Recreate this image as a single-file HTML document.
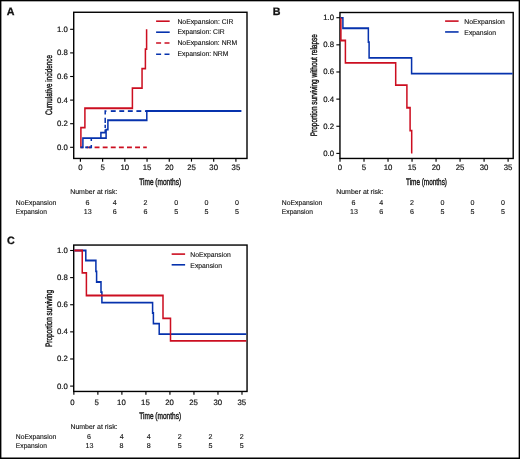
<!DOCTYPE html><html><head><meta charset="utf-8"><style>html,body{margin:0;padding:0;background:#fff;}svg{display:block;will-change:transform;}text{font-family:"Liberation Sans",sans-serif;fill:#111;stroke:#111;stroke-width:0.18px;text-rendering:geometricPrecision;} text.t{stroke-width:0.38px;} text.h{stroke-width:0.3px;} text.l{stroke-width:0.12px;fill:#111;stroke:#111}</style></head><body>
<svg width="520" height="459" viewBox="0 0 520 459">
<rect x="0" y="0" width="520" height="459" fill="#fff"/>
<text x="6.75" y="14.70" font-size="10.7" font-weight="bold" class="h">A</text>
<rect x="73.72" y="12.27" width="173.28" height="146.18" fill="none" stroke="#000" stroke-width="1.4"/>
<line x1="70.12" y1="147.30" x2="73.72" y2="147.30" stroke="#000" stroke-width="1.1"/>
<text x="67.77" y="149.75" font-size="7.8" text-anchor="end">0.0</text>
<line x1="70.12" y1="123.70" x2="73.72" y2="123.70" stroke="#000" stroke-width="1.1"/>
<text x="67.77" y="126.15" font-size="7.8" text-anchor="end">0.2</text>
<line x1="70.12" y1="100.10" x2="73.72" y2="100.10" stroke="#000" stroke-width="1.1"/>
<text x="67.77" y="102.55" font-size="7.8" text-anchor="end">0.4</text>
<line x1="70.12" y1="76.50" x2="73.72" y2="76.50" stroke="#000" stroke-width="1.1"/>
<text x="67.77" y="78.95" font-size="7.8" text-anchor="end">0.6</text>
<line x1="70.12" y1="52.90" x2="73.72" y2="52.90" stroke="#000" stroke-width="1.1"/>
<text x="67.77" y="55.35" font-size="7.8" text-anchor="end">0.8</text>
<line x1="70.12" y1="29.30" x2="73.72" y2="29.30" stroke="#000" stroke-width="1.1"/>
<text x="67.77" y="31.75" font-size="7.8" text-anchor="end">1.0</text>
<line x1="80.40" y1="158.45" x2="80.40" y2="161.65" stroke="#000" stroke-width="1.15"/>
<text x="80.40" y="170.35" font-size="7.8" text-anchor="middle">0</text>
<line x1="102.62" y1="158.45" x2="102.62" y2="161.65" stroke="#000" stroke-width="1.15"/>
<text x="102.62" y="170.35" font-size="7.8" text-anchor="middle">5</text>
<line x1="124.83" y1="158.45" x2="124.83" y2="161.65" stroke="#000" stroke-width="1.15"/>
<text x="124.83" y="170.35" font-size="7.8" text-anchor="middle">10</text>
<line x1="147.05" y1="158.45" x2="147.05" y2="161.65" stroke="#000" stroke-width="1.15"/>
<text x="147.05" y="170.35" font-size="7.8" text-anchor="middle">15</text>
<line x1="169.26" y1="158.45" x2="169.26" y2="161.65" stroke="#000" stroke-width="1.15"/>
<text x="169.26" y="170.35" font-size="7.8" text-anchor="middle">20</text>
<line x1="191.47" y1="158.45" x2="191.47" y2="161.65" stroke="#000" stroke-width="1.15"/>
<text x="191.47" y="170.35" font-size="7.8" text-anchor="middle">25</text>
<line x1="213.69" y1="158.45" x2="213.69" y2="161.65" stroke="#000" stroke-width="1.15"/>
<text x="213.69" y="170.35" font-size="7.8" text-anchor="middle">30</text>
<line x1="235.91" y1="158.45" x2="235.91" y2="161.65" stroke="#000" stroke-width="1.15"/>
<text x="235.91" y="170.35" font-size="7.8" text-anchor="middle">35</text>
<text class="t" transform="translate(52.20,115.12) rotate(-90)" x="0" y="0" font-size="9.4" textLength="60.10" lengthAdjust="spacingAndGlyphs">Cumulative incidence</text>
<text x="139.27" y="184.90" font-size="9.4" textLength="41.84" lengthAdjust="spacingAndGlyphs" class="t">Time (months)</text>
<text x="70.24" y="194.40" font-size="6.9" textLength="47.11" lengthAdjust="spacingAndGlyphs" class="l">Number at risk:</text>
<text x="15.86" y="205.30" font-size="6.9" textLength="40.41" lengthAdjust="spacingAndGlyphs" class="l">NoExpansion</text>
<text x="87.40" y="205.30" font-size="7.1000000000000005" text-anchor="middle" class="l">6</text>
<text x="114.85" y="205.30" font-size="7.1000000000000005" text-anchor="middle" class="l">4</text>
<text x="145.50" y="205.30" font-size="7.1000000000000005" text-anchor="middle" class="l">2</text>
<text x="176.20" y="205.30" font-size="7.1000000000000005" text-anchor="middle" class="l">0</text>
<text x="206.40" y="205.30" font-size="7.1000000000000005" text-anchor="middle" class="l">0</text>
<text x="236.90" y="205.30" font-size="7.1000000000000005" text-anchor="middle" class="l">0</text>
<text x="15.87" y="213.80" font-size="6.9" textLength="31.17" lengthAdjust="spacingAndGlyphs" class="l">Expansion</text>
<text x="87.75" y="213.80" font-size="7.1000000000000005" text-anchor="middle" class="l">13</text>
<text x="114.85" y="213.80" font-size="7.1000000000000005" text-anchor="middle" class="l">6</text>
<text x="145.50" y="213.80" font-size="7.1000000000000005" text-anchor="middle" class="l">6</text>
<text x="176.20" y="213.80" font-size="7.1000000000000005" text-anchor="middle" class="l">5</text>
<text x="206.40" y="213.80" font-size="7.1000000000000005" text-anchor="middle" class="l">5</text>
<text x="236.90" y="213.80" font-size="7.1000000000000005" text-anchor="middle" class="l">5</text>
<path transform="scale(1,1.22)" d="M80.40,120.820 L146.80,120.820" fill="none" stroke="#cc0e20" stroke-width="1.516" stroke-dasharray="4.9,3.2" stroke-dashoffset="2.0"/>
<path transform="scale(1,1.22)" d="M80.90,120.738 L80.90,104.590 L84.90,104.590 L84.90,88.770 L132.40,88.770 L132.40,72.295 L142.05,72.295 L142.05,56.270 L145.40,56.270 L145.40,40.328 L146.60,40.328 L146.60,24.016" fill="none" stroke="#cc0e20" stroke-width="1.516"/>
<path transform="scale(1,1.22)" d="M85.20,120.779 L88.20,120.779" fill="none" stroke="#0632ad" stroke-width="1.516"/>
<path transform="scale(1,1.22)" d="M89.00,120.779 L91.30,120.779 L91.30,118.770" fill="none" stroke="#0632ad" stroke-width="1.516"/>
<path transform="scale(1,1.22)" d="M91.30,115.574 L91.30,113.197" fill="none" stroke="#0632ad" stroke-width="1.516"/>
<path transform="scale(1,1.22)" d="M100.90,113.197 L100.90,108.770 L105.20,108.770 L105.20,106.230" fill="none" stroke="#0632ad" stroke-width="1.516"/>
<path transform="scale(1,1.22)" d="M105.20,104.918 L105.20,102.295" fill="none" stroke="#0632ad" stroke-width="1.516"/>
<path transform="scale(1,1.22)" d="M105.20,100.738 L105.20,96.557" fill="none" stroke="#0632ad" stroke-width="1.516"/>
<path transform="scale(1,1.22)" d="M105.20,93.934 L105.20,91.066 L106.40,91.066" fill="none" stroke="#0632ad" stroke-width="1.516"/>
<path transform="scale(1,1.22)" d="M110.80,91.066 L115.70,91.066" fill="none" stroke="#0632ad" stroke-width="1.516"/>
<path transform="scale(1,1.22)" d="M119.30,91.066 L124.20,91.066" fill="none" stroke="#0632ad" stroke-width="1.516"/>
<path transform="scale(1,1.22)" d="M127.85,91.066 L132.75,91.066" fill="none" stroke="#0632ad" stroke-width="1.516"/>
<path transform="scale(1,1.22)" d="M136.40,91.066 L141.30,91.066" fill="none" stroke="#0632ad" stroke-width="1.516"/>
<path transform="scale(1,1.22)" d="M144.95,91.066 L146.80,91.066" fill="none" stroke="#0632ad" stroke-width="1.516"/>
<path transform="scale(1,1.22)" d="M80.40,120.738 L82.90,120.738 L82.90,113.197 L106.10,113.197 L106.10,106.230 L107.90,106.230 L107.90,98.525 L146.80,98.525 L146.80,90.984 L241.40,90.984" fill="none" stroke="#0632ad" stroke-width="1.516"/>
<path transform="scale(1,1.22)" d="M156.10,17.377 L169.70,17.377" fill="none" stroke="#cc0e20" stroke-width="1.311"/>
<text x="177.46" y="23.50" font-size="6.9" textLength="55.91" lengthAdjust="spacingAndGlyphs" class="l">NoExpansion: CIR</text>
<path transform="scale(1,1.22)" d="M156.10,26.393 L169.70,26.393" fill="none" stroke="#0632ad" stroke-width="1.311"/>
<text x="177.46" y="34.20" font-size="6.9" textLength="47.22" lengthAdjust="spacingAndGlyphs" class="l">Expansion: CIR</text>
<path transform="scale(1,1.22)" d="M156.10,35.246 L169.70,35.246" fill="none" stroke="#cc0e20" stroke-width="1.311" stroke-dasharray="5,3.4"/>
<text x="177.46" y="45.40" font-size="6.9" textLength="59.68" lengthAdjust="spacingAndGlyphs" class="l">NoExpansion: NRM</text>
<path transform="scale(1,1.22)" d="M156.10,44.426 L169.70,44.426" fill="none" stroke="#0632ad" stroke-width="1.311" stroke-dasharray="5,3.4"/>
<text x="177.46" y="56.10" font-size="6.9" textLength="50.99" lengthAdjust="spacingAndGlyphs" class="l">Expansion: NRM</text>
<text x="272.80" y="14.70" font-size="10.7" font-weight="bold" class="h">B</text>
<rect x="339.95" y="12.5" width="173.25" height="145.95" fill="none" stroke="#000" stroke-width="1.4"/>
<line x1="336.35" y1="153.40" x2="339.95" y2="153.40" stroke="#000" stroke-width="1.1"/>
<text x="334.00" y="155.85" font-size="7.8" text-anchor="end">0.0</text>
<line x1="336.35" y1="126.26" x2="339.95" y2="126.26" stroke="#000" stroke-width="1.1"/>
<text x="334.00" y="128.71" font-size="7.8" text-anchor="end">0.2</text>
<line x1="336.35" y1="99.12" x2="339.95" y2="99.12" stroke="#000" stroke-width="1.1"/>
<text x="334.00" y="101.57" font-size="7.8" text-anchor="end">0.4</text>
<line x1="336.35" y1="71.98" x2="339.95" y2="71.98" stroke="#000" stroke-width="1.1"/>
<text x="334.00" y="74.43" font-size="7.8" text-anchor="end">0.6</text>
<line x1="336.35" y1="44.84" x2="339.95" y2="44.84" stroke="#000" stroke-width="1.1"/>
<text x="334.00" y="47.29" font-size="7.8" text-anchor="end">0.8</text>
<line x1="336.35" y1="17.70" x2="339.95" y2="17.70" stroke="#000" stroke-width="1.1"/>
<text x="334.00" y="20.15" font-size="7.8" text-anchor="end">1.0</text>
<line x1="340.00" y1="158.45" x2="340.00" y2="161.65" stroke="#000" stroke-width="1.15"/>
<text x="340.00" y="170.40" font-size="7.8" text-anchor="middle">0</text>
<line x1="364.01" y1="158.45" x2="364.01" y2="161.65" stroke="#000" stroke-width="1.15"/>
<text x="364.01" y="170.40" font-size="7.8" text-anchor="middle">5</text>
<line x1="388.03" y1="158.45" x2="388.03" y2="161.65" stroke="#000" stroke-width="1.15"/>
<text x="388.03" y="170.40" font-size="7.8" text-anchor="middle">10</text>
<line x1="412.05" y1="158.45" x2="412.05" y2="161.65" stroke="#000" stroke-width="1.15"/>
<text x="412.05" y="170.40" font-size="7.8" text-anchor="middle">15</text>
<line x1="436.06" y1="158.45" x2="436.06" y2="161.65" stroke="#000" stroke-width="1.15"/>
<text x="436.06" y="170.40" font-size="7.8" text-anchor="middle">20</text>
<line x1="460.07" y1="158.45" x2="460.07" y2="161.65" stroke="#000" stroke-width="1.15"/>
<text x="460.07" y="170.40" font-size="7.8" text-anchor="middle">25</text>
<line x1="484.09" y1="158.45" x2="484.09" y2="161.65" stroke="#000" stroke-width="1.15"/>
<text x="484.09" y="170.40" font-size="7.8" text-anchor="middle">30</text>
<line x1="508.11" y1="158.45" x2="508.11" y2="161.65" stroke="#000" stroke-width="1.15"/>
<text x="508.11" y="170.40" font-size="7.8" text-anchor="middle">35</text>
<text class="t" transform="translate(316.60,136.22) rotate(-90)" x="0" y="0" font-size="9.4" textLength="102.02" lengthAdjust="spacingAndGlyphs">Proportion surviving without relapse</text>
<text x="405.97" y="184.90" font-size="9.4" textLength="41.03" lengthAdjust="spacingAndGlyphs" class="t">Time (months)</text>
<text x="336.24" y="194.40" font-size="6.9" textLength="47.11" lengthAdjust="spacingAndGlyphs" class="l">Number at risk:</text>
<text x="281.86" y="205.30" font-size="6.9" textLength="40.41" lengthAdjust="spacingAndGlyphs" class="l">NoExpansion</text>
<text x="353.40" y="205.30" font-size="7.1000000000000005" text-anchor="middle" class="l">6</text>
<text x="381.30" y="205.30" font-size="7.1000000000000005" text-anchor="middle" class="l">4</text>
<text x="411.90" y="205.30" font-size="7.1000000000000005" text-anchor="middle" class="l">2</text>
<text x="442.50" y="205.30" font-size="7.1000000000000005" text-anchor="middle" class="l">0</text>
<text x="472.60" y="205.30" font-size="7.1000000000000005" text-anchor="middle" class="l">0</text>
<text x="502.90" y="205.30" font-size="7.1000000000000005" text-anchor="middle" class="l">0</text>
<text x="281.87" y="213.80" font-size="6.9" textLength="31.17" lengthAdjust="spacingAndGlyphs" class="l">Expansion</text>
<text x="354.00" y="213.80" font-size="7.1000000000000005" text-anchor="middle" class="l">13</text>
<text x="381.30" y="213.80" font-size="7.1000000000000005" text-anchor="middle" class="l">6</text>
<text x="411.90" y="213.80" font-size="7.1000000000000005" text-anchor="middle" class="l">6</text>
<text x="442.50" y="213.80" font-size="7.1000000000000005" text-anchor="middle" class="l">5</text>
<text x="472.60" y="213.80" font-size="7.1000000000000005" text-anchor="middle" class="l">5</text>
<text x="502.90" y="213.80" font-size="7.1000000000000005" text-anchor="middle" class="l">5</text>
<path transform="scale(1,1.22)" d="M340.60,14.590 L342.90,14.590 L342.90,23.115 L368.35,23.115 L368.35,34.508 L369.10,34.508 L369.10,47.377 L411.60,47.377 L411.60,60.410 L512.60,60.410" fill="none" stroke="#0632ad" stroke-width="1.516"/>
<path transform="scale(1,1.22)" d="M340.90,14.590 L340.90,33.197 L345.40,33.197 L345.40,51.598 L395.70,51.598 L395.70,69.836 L406.90,69.836 L406.90,88.279 L410.10,88.279 L410.10,107.049 L411.70,107.049 L411.70,125.738" fill="none" stroke="#cc0e20" stroke-width="1.516"/>
<path transform="scale(1,1.22)" d="M445.10,17.295 L458.60,17.295" fill="none" stroke="#cc0e20" stroke-width="1.311"/>
<text x="464.36" y="23.60" font-size="6.9" textLength="40.43" lengthAdjust="spacingAndGlyphs" class="l">NoExpansion</text>
<path transform="scale(1,1.22)" d="M445.10,26.189 L458.60,26.189" fill="none" stroke="#0632ad" stroke-width="1.311"/>
<text x="464.36" y="34.60" font-size="6.9" textLength="31.74" lengthAdjust="spacingAndGlyphs" class="l">Expansion</text>
<text x="7.00" y="243.80" font-size="10.7" font-weight="bold" class="h">C</text>
<rect x="73.72" y="245.05" width="173.33" height="146.40" fill="none" stroke="#000" stroke-width="1.4"/>
<line x1="70.12" y1="386.10" x2="73.72" y2="386.10" stroke="#000" stroke-width="1.1"/>
<text x="67.77" y="388.55" font-size="7.8" text-anchor="end">0.0</text>
<line x1="70.12" y1="358.98" x2="73.72" y2="358.98" stroke="#000" stroke-width="1.1"/>
<text x="67.77" y="361.43" font-size="7.8" text-anchor="end">0.2</text>
<line x1="70.12" y1="331.86" x2="73.72" y2="331.86" stroke="#000" stroke-width="1.1"/>
<text x="67.77" y="334.31" font-size="7.8" text-anchor="end">0.4</text>
<line x1="70.12" y1="304.74" x2="73.72" y2="304.74" stroke="#000" stroke-width="1.1"/>
<text x="67.77" y="307.19" font-size="7.8" text-anchor="end">0.6</text>
<line x1="70.12" y1="277.62" x2="73.72" y2="277.62" stroke="#000" stroke-width="1.1"/>
<text x="67.77" y="280.07" font-size="7.8" text-anchor="end">0.8</text>
<line x1="70.12" y1="250.50" x2="73.72" y2="250.50" stroke="#000" stroke-width="1.1"/>
<text x="67.77" y="252.95" font-size="7.8" text-anchor="end">1.0</text>
<line x1="73.85" y1="391.45" x2="73.85" y2="394.65" stroke="#000" stroke-width="1.15"/>
<text x="72.45" y="404.50" font-size="7.8" text-anchor="middle">0</text>
<line x1="97.87" y1="391.45" x2="97.87" y2="394.65" stroke="#000" stroke-width="1.15"/>
<text x="96.67" y="404.50" font-size="7.8" text-anchor="middle">5</text>
<line x1="121.89" y1="391.45" x2="121.89" y2="394.65" stroke="#000" stroke-width="1.15"/>
<text x="121.44" y="404.50" font-size="7.8" text-anchor="middle">10</text>
<line x1="145.91" y1="391.45" x2="145.91" y2="394.65" stroke="#000" stroke-width="1.15"/>
<text x="145.41" y="404.50" font-size="7.8" text-anchor="middle">15</text>
<line x1="169.93" y1="391.45" x2="169.93" y2="394.65" stroke="#000" stroke-width="1.15"/>
<text x="169.53" y="404.50" font-size="7.8" text-anchor="middle">20</text>
<line x1="193.95" y1="391.45" x2="193.95" y2="394.65" stroke="#000" stroke-width="1.15"/>
<text x="193.55" y="404.50" font-size="7.8" text-anchor="middle">25</text>
<line x1="217.97" y1="391.45" x2="217.97" y2="394.65" stroke="#000" stroke-width="1.15"/>
<text x="217.77" y="404.50" font-size="7.8" text-anchor="middle">30</text>
<line x1="241.99" y1="391.45" x2="241.99" y2="394.65" stroke="#000" stroke-width="1.15"/>
<text x="241.84" y="404.50" font-size="7.8" text-anchor="middle">35</text>
<text class="t" transform="translate(52.20,347.02) rotate(-90)" x="0" y="0" font-size="9.4" textLength="57.05" lengthAdjust="spacingAndGlyphs">Proportion surviving</text>
<text x="139.27" y="419.40" font-size="9.4" textLength="41.84" lengthAdjust="spacingAndGlyphs" class="t">Time (months)</text>
<text x="70.44" y="429.20" font-size="6.9" textLength="47.11" lengthAdjust="spacingAndGlyphs" class="l">Number at risk:</text>
<text x="15.86" y="438.80" font-size="6.9" textLength="40.41" lengthAdjust="spacingAndGlyphs" class="l">NoExpansion</text>
<text x="88.90" y="438.80" font-size="7.1000000000000005" text-anchor="middle" class="l">6</text>
<text x="121.80" y="438.80" font-size="7.1000000000000005" text-anchor="middle" class="l">4</text>
<text x="148.70" y="438.80" font-size="7.1000000000000005" text-anchor="middle" class="l">4</text>
<text x="179.85" y="438.80" font-size="7.1000000000000005" text-anchor="middle" class="l">2</text>
<text x="210.50" y="438.80" font-size="7.1000000000000005" text-anchor="middle" class="l">2</text>
<text x="241.70" y="438.80" font-size="7.1000000000000005" text-anchor="middle" class="l">2</text>
<text x="15.87" y="447.60" font-size="6.9" textLength="31.17" lengthAdjust="spacingAndGlyphs" class="l">Expansion</text>
<text x="89.50" y="447.60" font-size="7.1000000000000005" text-anchor="middle" class="l">13</text>
<text x="121.60" y="447.60" font-size="7.1000000000000005" text-anchor="middle" class="l">8</text>
<text x="148.70" y="447.60" font-size="7.1000000000000005" text-anchor="middle" class="l">8</text>
<text x="179.85" y="447.60" font-size="7.1000000000000005" text-anchor="middle" class="l">5</text>
<text x="210.50" y="447.60" font-size="7.1000000000000005" text-anchor="middle" class="l">5</text>
<text x="241.70" y="447.60" font-size="7.1000000000000005" text-anchor="middle" class="l">5</text>
<path transform="scale(1,1.22)" d="M74.30,205.328 L85.80,205.328 L85.80,213.525 L95.90,213.525 L95.90,222.459 L96.60,222.459 L96.60,231.148 L101.00,231.148 L101.00,239.426 L101.90,239.426 L101.90,248.033 L152.60,248.033 L152.60,256.557 L153.40,256.557 L153.40,265.246 L159.20,265.246 L159.20,273.934 L246.30,273.934" fill="none" stroke="#0632ad" stroke-width="1.516"/>
<path transform="scale(1,1.22)" d="M74.30,205.328 L82.25,205.328 L82.25,223.689 L86.40,223.689 L86.40,242.213 L163.00,242.213 L163.00,260.902 L170.50,260.902 L170.50,279.385 L246.30,279.385" fill="none" stroke="#cc0e20" stroke-width="1.516"/>
<path transform="scale(1,1.22)" d="M171.65,208.279 L185.10,208.279" fill="none" stroke="#cc0e20" stroke-width="1.311"/>
<text x="190.36" y="256.70" font-size="6.9" textLength="40.43" lengthAdjust="spacingAndGlyphs" class="l">NoExpansion</text>
<path transform="scale(1,1.22)" d="M171.65,217.049 L185.10,217.049" fill="none" stroke="#0632ad" stroke-width="1.311"/>
<text x="190.36" y="267.50" font-size="6.9" textLength="31.74" lengthAdjust="spacingAndGlyphs" class="l">Expansion</text>
<rect x="0" y="0" width="520" height="1.33" fill="#000"/>
<rect x="0" y="0" width="1.4" height="459" fill="#000"/>
<rect x="518.65" y="0" width="1.35" height="459" fill="#000"/>
<rect x="0" y="457.5" width="520" height="1.5" fill="#000"/>
</svg></body></html>
